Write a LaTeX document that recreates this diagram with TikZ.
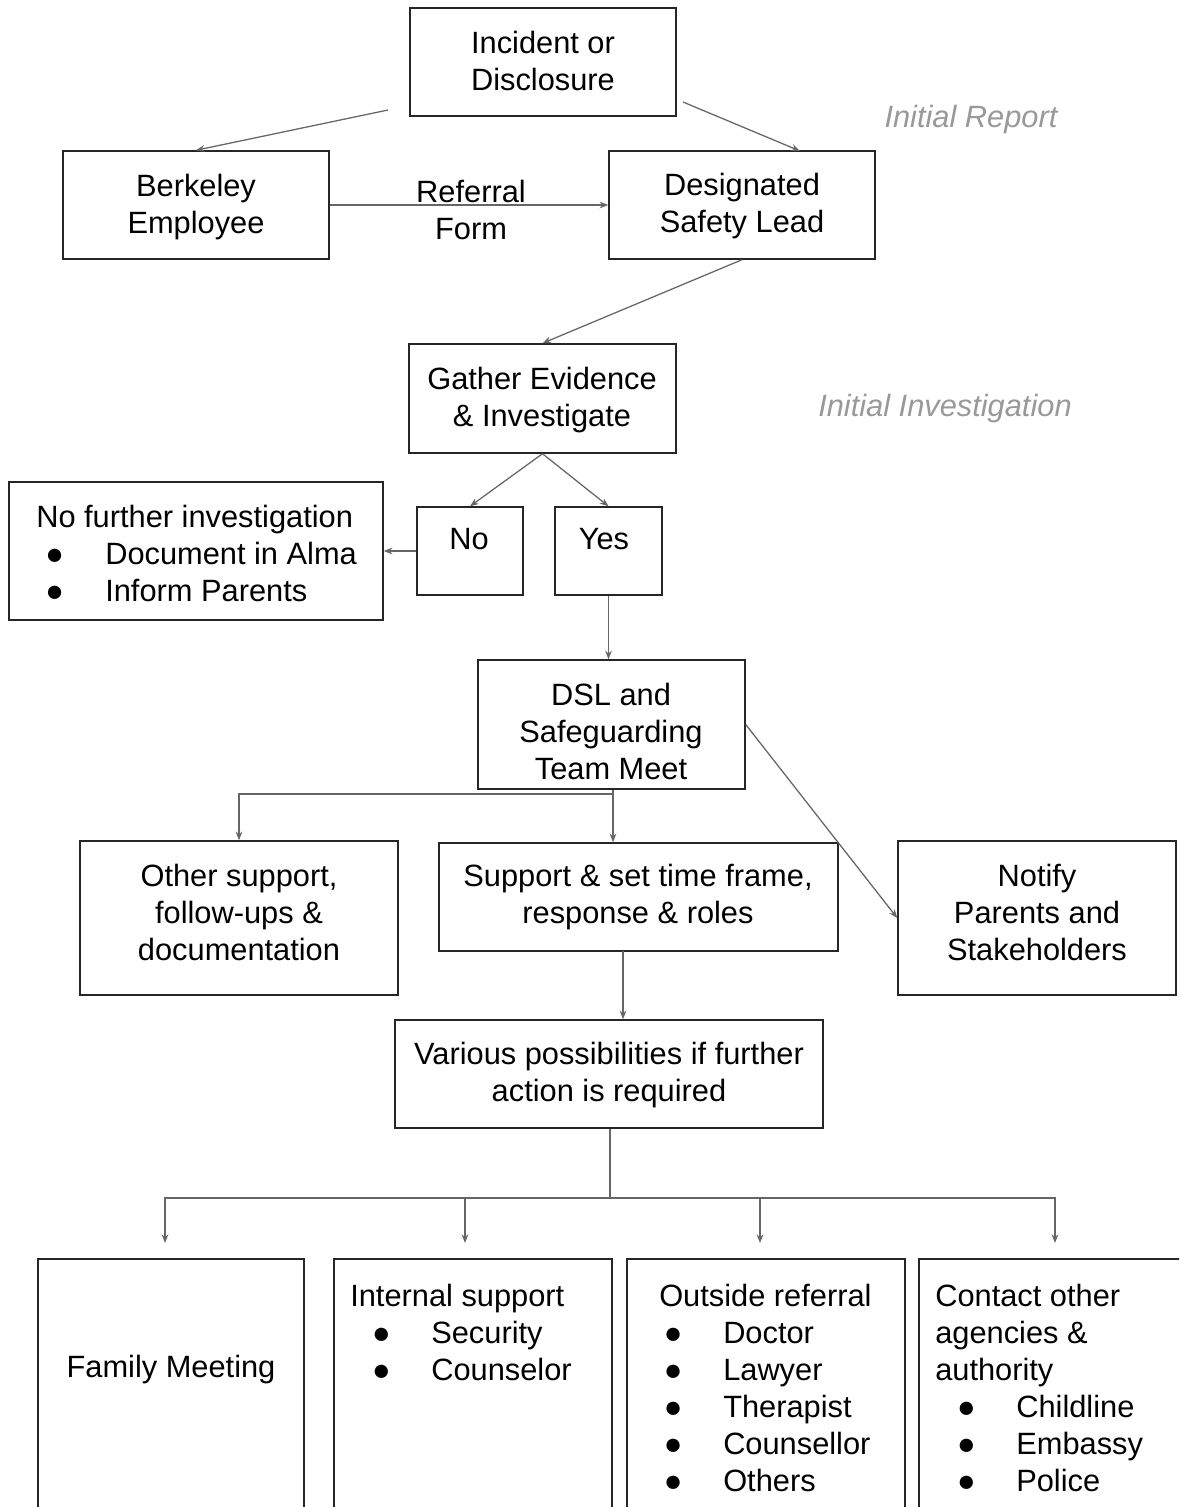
\documentclass[tikz,border=0pt]{standalone}
\usepackage{fontspec}
\setmainfont{Liberation Sans}
\usetikzlibrary{arrows.meta,fit,calc}
\newcommand\mainfs{\fontsize{23.1}{27.75}\selectfont}
\newcommand\li[3]{\hspace*{#1}\makebox[#2][l]{●}#3}
\begin{document}
\begin{tikzpicture}[x=0.75pt,y=-0.75pt,
  box/.style={draw=black!85, line width=1.1pt, inner sep=0pt, rectangle},
  txt/.style={inner sep=0pt, align=center, anchor=north, font=\mainfs, yshift=1.5pt},
  ltxt/.style={inner sep=0pt, align=left, anchor=north west, font=\mainfs, yshift=1.5pt},
  side/.style={inner sep=0pt, anchor=north, font=\mainfs\itshape, text=black!40, yshift=1pt},
  conn/.style={draw=black!60, line width=0.95pt},
  arr/.style={conn, -{Stealth[length=6.5pt,width=5pt]}}]
\useasboundingbox (0,0) rectangle (1179,1507);
\clip (0,0) rectangle (1179,1507);
\fill[white] (0,0) rectangle (1179,1507);

% boxes
\node[box, fit={(410,8) (676,116)}] (inc) {};
\node[box, fit={(63,151) (329,259)}] (be) {};
\node[box, fit={(609,151) (875,259)}] (dsl) {};
\node[box, fit={(409,344) (676,453)}] (gat) {};
\node[box, fit={(9,482) (383,620)}] (nf) {};
\node[box, fit={(417,507) (523,595)}] (no) {};
\node[box, fit={(555,507) (662,595)}] (yes) {};
\node[box, fit={(478,660) (745,789)}] (team) {};
\node[box, fit={(80,841) (398,995)}] (oth) {};
\node[box, fit={(439,843) (838,951)}] (sup) {};
\node[box, fit={(898,841) (1176,995)}] (ntf) {};
\node[box, fit={(395,1020) (823,1128)}] (var) {};
\node[box, fit={(38,1259) (304,1530)}] (b1) {};
\node[box, fit={(334,1259) (612,1530)}] (b2) {};
\node[box, fit={(627,1259) (905,1530)}] (b3) {};
\node[box, fit={(919,1259) (1195,1530)}] (b4) {};

% texts
\node[txt] (inct) at (543,33) {Incident or\\Disclosure};
\node[txt] (bet) at (196,176) {Berkeley\\Employee};
\node[txt] (dslt) at (742,175) {Designated\\Safety Lead};
\node[txt] (reft) at (471,182) {Referral\\Form};
\node[side] (rep) at (971,106) {Initial Report};
\node[txt] (gatt) at (542,369) {Gather Evidence\\\& Investigate};
\node[side] (inv) at (945,395) {Initial Investigation};
\node[ltxt] (nft) at (36,507) {No further investigation\\\li{6.75pt}{45pt}{Document in Alma}\\\li{6.75pt}{45pt}{Inform Parents}};
\node[txt] (not) at (469,530) {No};
\node[txt] (yest) at (604,530) {Yes};
\node[txt] (teamt) at (611,685) {DSL and\\Safeguarding\\Team Meet};
\node[txt] (otht) at (239,866) {Other support,\\follow-ups \&\\documentation};
\node[txt] (supt) at (638,866) {Support \& set time frame,\\response \& roles};
\node[txt] (ntft) at (1037,866) {Notify\\Parents and\\Stakeholders};
\node[txt] (vart) at (609,1044) {Various possibilities if further\\action is required};
\node[txt] (b1t) at (171,1357) {Family Meeting};
\node[ltxt] (b2t) at (350,1286) {Internal support\\\li{16.3pt}{44.5pt}{Security}\\\li{16.3pt}{44.5pt}{Counselor}};
\node[ltxt] (b3t) at (659,1286) {Outside referral\\\li{3.5pt}{44.5pt}{Doctor}\\\li{3.5pt}{44.5pt}{Lawyer}\\\li{3.5pt}{44.5pt}{Therapist}\\\li{3.5pt}{44.5pt}{Counsellor}\\\li{3.5pt}{44.5pt}{Others}};
\node[ltxt] (b4t) at (935,1286) {Contact other\\agencies \&\\authority\\\li{16.3pt}{44.5pt}{Childline}\\\li{16.3pt}{44.5pt}{Embassy}\\\li{16.3pt}{44.5pt}{Police}};

% connectors
\coordinate (s1) at (388,110);
\draw[arr] (s1) -- (be.north);
\coordinate (s2) at (683,102);
\coordinate (e2) at (800,151);
\draw[arr] (s2) -- (e2);
\draw[arr] (be.east) -- (dsl.west);
\draw[arr] (dsl.south) -- (gat.north);
\draw[arr] (gat.south) -- (no.north);
\draw[arr] (gat.south) -- (yes.north);
\draw[arr] (no.west) -- (nf.east);
\draw[arr] (yes.south) -- (yes.south |- team.north);
\coordinate (j1) at (613,794);
\draw[conn] (j1 |- team.south) -- (j1);
\draw[arr] (j1) -| (oth.north);
\draw[arr] (j1) -- (j1 |- sup.north);
\draw[arr] (team.east) -- (ntf.west);
\coordinate (s3) at (623,951);
\draw[arr] (s3) -- (s3 |- var.north);
\coordinate (j2) at (610,1198);
\draw[conn] (j2 |- var.south) -- (j2);
\coordinate (t1) at (165,1243);
\coordinate (t2) at (465,1243);
\coordinate (t3) at (760,1243);
\coordinate (t4) at (1055,1243);
\draw[arr] (j2) -| (t1);
\draw[arr] (j2) -| (t2);
\draw[arr] (j2) -| (t3);
\draw[arr] (j2) -| (t4);
\end{tikzpicture}
\end{document}
